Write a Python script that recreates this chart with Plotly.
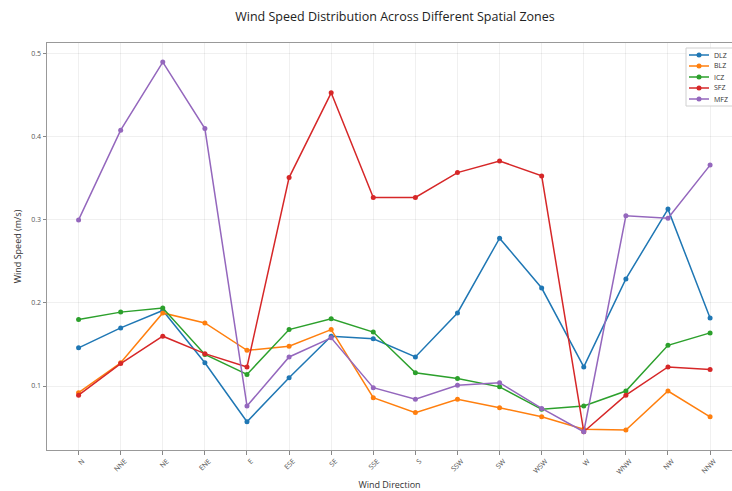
import plotly.graph_objects as go

# Wind directions (16-point compass)
directions = ["N", "NNE", "NE", "ENE", "E", "ESE", "SE", "SSE",
              "S", "SSW", "SW", "WSW", "W", "WNW", "NW", "NNW"]

# Mean wind speed (m/s) per zone
dlz = [0.146, 0.170, 0.191, 0.128, 0.057, 0.110, 0.160, 0.157,
       0.135, 0.188, 0.278, 0.218, 0.123, 0.229, 0.313, 0.182]
blz = [0.092, 0.128, 0.188, 0.176, 0.143, 0.148, 0.168, 0.086,
       0.068, 0.084, 0.074, 0.063, 0.048, 0.047, 0.094, 0.063]
icz = [0.180, 0.189, 0.194, 0.138, 0.114, 0.168, 0.181, 0.165,
       0.116, 0.109, 0.099, 0.072, 0.076, 0.094, 0.149, 0.164]
sfz = [0.089, 0.127, 0.160, 0.139, 0.123, 0.351, 0.453, 0.327,
       0.327, 0.357, 0.371, 0.353, 0.045, 0.089, 0.123, 0.120]
mfz = [0.300, 0.408, 0.490, 0.410, 0.076, 0.135, 0.158, 0.098,
       0.084, 0.101, 0.104, 0.073, 0.045, 0.305, 0.302, 0.366]

zones = ["DLZ", "BLZ", "ICZ", "SFZ", "MFZ"]
series = [dlz, blz, icz, sfz, mfz]
colors = ["#1f77b4", "#ff7f0e", "#2ca02c", "#d62728", "#9467bd"]

y_ticks = [0.1, 0.2, 0.3, 0.4, 0.5]

W, H = 732, 491
ML, MR, MT, MB = 47, 0, 43, 41
PW, PH = W - ML - MR, H - MT - MB

fig = go.Figure()
x_idx = list(range(len(directions)))
for name, vals, col in zip(zones, series, colors):
    fig.add_trace(go.Scatter(
        x=x_idx, y=vals, name=name, mode="lines+markers",
        line=dict(color=col, width=1.5),
        marker=dict(color=col, size=5),
        showlegend=False,
    ))


def px_x(p):
    return (p - ML) / PW


def px_y(p):
    return (H - MB - p) / PH


# Compact legend box in the upper right corner
shapes = [dict(type="rect", xref="paper", yref="paper",
               x0=px_x(686), x1=px_x(740), y0=px_y(106), y1=px_y(48),
               line=dict(color="#d0d0d0", width=1),
               fillcolor="rgba(255,255,255,0.85)", layer="above")]
annotations = []
for i, (name, col) in enumerate(zip(zones, colors)):
    yy = 55 + 11 * i
    shapes.append(dict(type="line", xref="paper", yref="paper",
                       x0=px_x(689), x1=px_x(709), y0=px_y(yy), y1=px_y(yy),
                       line=dict(color=col, width=1.5), layer="above"))
    shapes.append(dict(type="circle", xref="paper", yref="paper",
                       x0=px_x(696.5), x1=px_x(701.5),
                       y0=px_y(yy + 2.5), y1=px_y(yy - 2.5),
                       line=dict(color=col, width=0), fillcolor=col,
                       layer="above"))
    annotations.append(dict(xref="paper", yref="paper", x=px_x(712),
                            y=px_y(yy), text=name, showarrow=False,
                            xanchor="left", yanchor="middle",
                            font=dict(size=7, color="#333")))

fig.update_layout(
    width=W, height=H,
    margin=dict(l=ML, r=MR, t=MT, b=MB),
    paper_bgcolor="white", plot_bgcolor="white",
    font=dict(family="Open Sans, sans-serif", color="#333"),
    title=dict(text="Wind Speed Distribution Across Different Spatial Zones",
               x=395 / W, xref="container", xanchor="center",
               y=1 - 17 / H, yref="container", yanchor="middle",
               font=dict(size=12.5, color="#222")),
    shapes=shapes,
    annotations=annotations,
    showlegend=False,
)

fig.update_xaxes(
    range=[-0.75, (W - ML) / 42.1 - 0.75],
    tickmode="array", tickvals=x_idx, ticktext=directions,
    tickangle=-45, ticklabelshift=4,
    tickfont=dict(size=7, color="#555"),
    ticks="outside", ticklen=3.5, tickcolor="#888",
    showline=True, linecolor="#999", linewidth=1, mirror=True,
    showgrid=True, gridcolor="rgba(0,0,0,0.06)", gridwidth=1,
    zeroline=False,
    title=dict(text="Wind Direction", font=dict(size=9, color="#333"), standoff=6),
)
fig.update_yaxes(
    range=[0.023, 0.513],
    tickmode="array", tickvals=y_ticks, ticktext=[f"{v:.1f}" for v in y_ticks],
    tickfont=dict(size=7, color="#555"),
    ticks="outside", ticklen=3.5, tickcolor="#888",
    showline=True, linecolor="#999", linewidth=1, mirror=False,
    showgrid=True, gridcolor="rgba(0,0,0,0.06)", gridwidth=1,
    zeroline=False,
    title=dict(text="Wind Speed (m/s)", font=dict(size=9, color="#333"), standoff=8),
)

fig.write_html("out.html")
